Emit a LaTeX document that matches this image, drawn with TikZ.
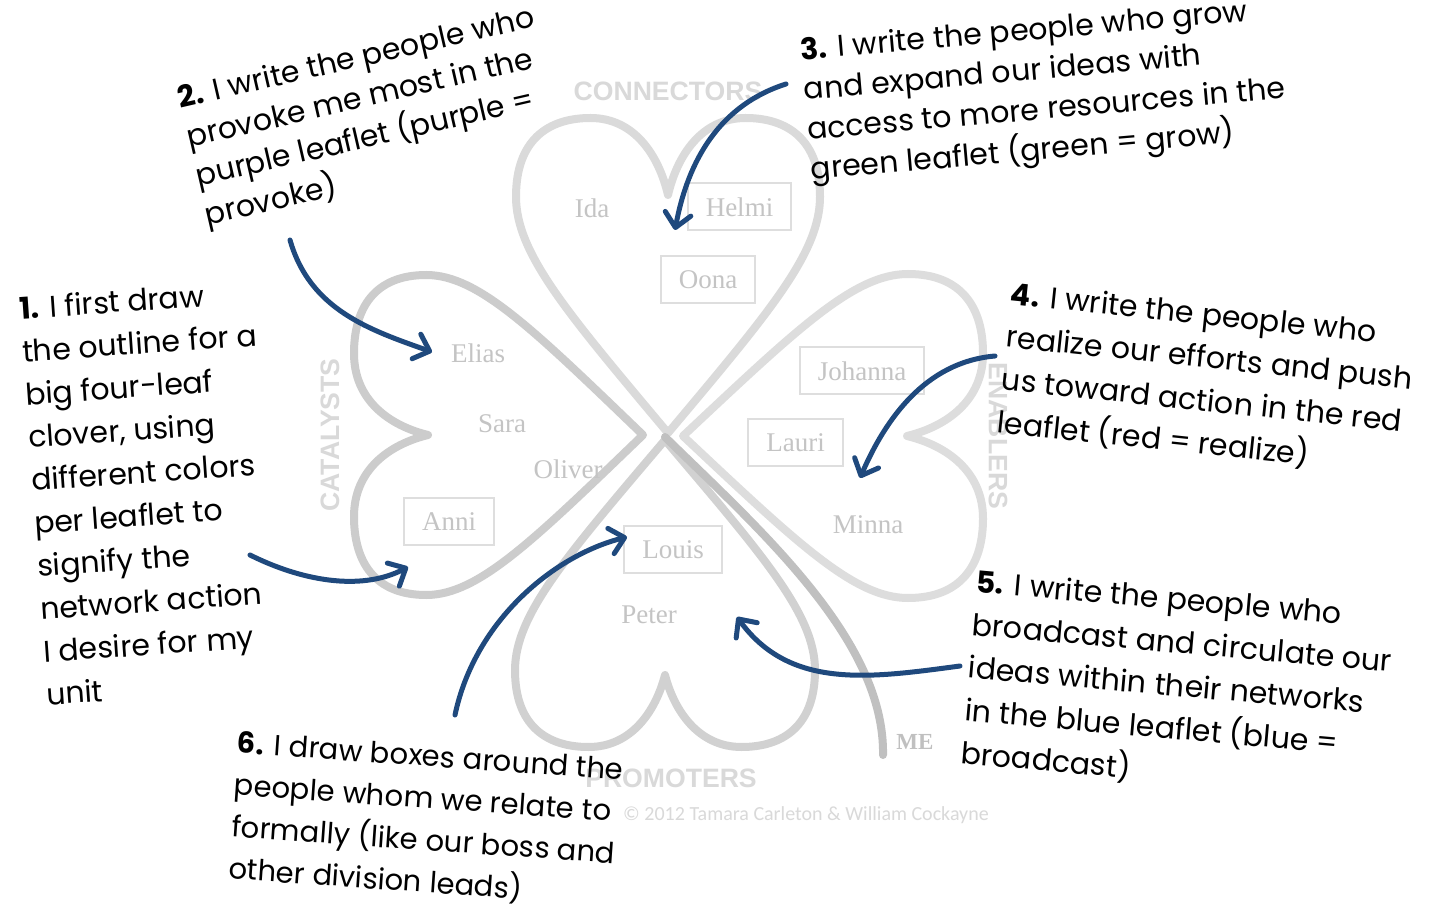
\documentclass[tikz,border=0pt]{standalone}
\usepackage{fontspec}
\setmainfont{Poppins}
\newfontfamily\namefont{Liberation Serif}
\newfontfamily\labfont{Liberation Sans}
\newfontfamily\copyfont{Carlito}
\usetikzlibrary{arrows.meta}
\definecolor{arrowblue}{RGB}{31,73,125}
\definecolor{namegray}{RGB}{196,196,196}
\definecolor{boxgray}{RGB}{222,222,222}
\definecolor{labgray}{RGB}{217,217,217}
\definecolor{leaftop}{RGB}{218,218,218}
\definecolor{leafleft}{RGB}{204,204,204}
\definecolor{leafright}{RGB}{221,221,221}
\definecolor{leafbottom}{RGB}{209,209,209}
\definecolor{stemgray}{RGB}{192,192,192}
\newcommand\drawleaf[4]{%
  \draw[leafline,#4] (0,0) .. controls ({-0.66*#2},{-0.38*#1}) and ({-#2},{-0.57*#1}) .. ({-#2},{-0.75*#1})
   .. controls ({-#2},{-0.93*#1}) and ({-0.79*#2},{-#1}) .. ({-0.51*#2},{-#1})
   .. controls ({-0.22*#2},{-#1}) and ({-0.06*#2},{-0.88*#1}) .. (0,{-#3})
   .. controls ({0.06*#2},{-0.88*#1}) and ({0.22*#2},{-#1}) .. ({0.51*#2},{-#1})
   .. controls ({0.79*#2},{-#1}) and ({#2},{-0.93*#1}) .. ({#2},{-0.75*#1})
   .. controls ({#2},{-0.57*#1}) and ({0.66*#2},{-0.38*#1}) .. (0,0) -- cycle;}
\begin{document}
\begin{tikzpicture}[x=0.5pt,y=-0.5pt,
  leafline/.style={line width=4pt,line join=round},
  person/.style={font=\namefont\fontsize{13.5}{16}\selectfont,text=namegray,inner sep=0pt},
  boxed/.style={person,draw=boxgray,line width=1pt,inner xsep=9pt,minimum height=23.5pt},
  group/.style={font=\labfont\bfseries\fontsize{13.3}{16}\selectfont,text=labgray,inner sep=0pt},
  note/.style={font=\fontsize{15}{21.5}\selectfont,align=left,anchor=north west,inner sep=0pt,text=black},
  pointer/.style={draw=arrowblue,line width=2.5pt,line cap=round,
    -{Straight Barb[length=7pt,width=13pt,line cap=round,line join=round]}}]
\useasboundingbox (0,0) rectangle (1444,908);
\fill[white] (0,0) rectangle (1444,908);
% clover
\begin{scope}[shift={(668,433)}]\drawleaf{315}{152}{238}{draw=leaftop}\end{scope}
\begin{scope}[shift={(683,436)},rotate=-90]\drawleaf{300}{162}{224}{draw=leafright}\end{scope}
\begin{scope}[shift={(665,440)},rotate=180]\drawleaf{307}{150}{235}{draw=leafbottom}\end{scope}
\begin{scope}[shift={(643,435)},rotate=90]\drawleaf{289}{160}{215}{draw=leafleft}\end{scope}
\coordinate (stemtop) at (665,437);
\coordinate (stemend) at (883,755);
\draw[line width=4pt,draw=stemgray,line cap=round] (stemtop) .. controls (760,530) and (885,640) .. (stemend);
% group labels
\node[group] (connectors) at (668,91) {CONNECTORS};
\node[group,rotate=90] (catalysts) at (330,435) {CATALYSTS};
\node[group,rotate=-90] (enablers) at (998,436) {ENABLERS};
\node[group] (promoters) at (671,778) {PROMOTERS};
\node[font=\namefont\bfseries\fontsize{11.5}{14}\selectfont,text=stemgray,inner sep=0pt] (me) at (915,742) {ME};
\node[font=\copyfont\fontsize{10}{12}\selectfont,text=labgray,inner sep=0pt] (copy) at (806,815) {© 2012 Tamara Carleton \& William Cockayne};
% people
\node[person] (ida) at (592,208) {Ida};
\node[boxed] (helmi) at (739.5,207) {Helmi};
\node[boxed] (oona) at (708,279.5) {Oona};
\node[person] (elias) at (478,353) {Elias};
\node[person] (sara) at (502,424) {Sara};
\node[person] (oliver) at (568,469) {Oliver};
\node[boxed] (anni) at (449,521.5) {Anni};
\node[boxed] (johanna) at (862,371) {Johanna};
\node[boxed] (lauri) at (795.5,442.5) {Lauri};
\node[person] (minna) at (868,525) {Minna};
\node[boxed] (louis) at (673,549.5) {Louis};
\node[person] (peter) at (649,615) {Peter};
% notes
\node[note,rotate=4] (n1) at (18,296) {\textbf{1.} I first draw\\the outline for a\\big four-leaf\\clover, using\\different colors\\per leaflet to\\signify the\\network action\\I desire for my\\unit};
\node[note,rotate=13,font=\fontsize{15}{20}\selectfont] (n2) at (175,86) {\textbf{2.} I write the people who\\provoke me most in the\\purple leaflet (purple =\\provoke)};
\node[note,rotate=5,font=\fontsize{15}{20}\selectfont] (n3) at (799,37) {\textbf{3.} I write the people who grow\\and expand our ideas with\\access to more resources in the\\green leaflet (green = grow)};
\node[note,rotate=-6] (n4) at (1012,281) {\textbf{4.} I write the people who\\realize our efforts and push\\us toward action in the red\\leaflet (red = realize)};
\node[note,rotate=-5] (n5) at (977,569) {\textbf{5.} I write the people who\\broadcast and circulate our\\ideas within their networks\\in the blue leaflet (blue =\\broadcast)};
\node[note,rotate=-4,font=\fontsize{14.5}{21}\selectfont] (n6) at (238,731) {\textbf{6.} I draw boxes around the\\people whom we relate to\\formally (like our boss and\\other division leads)};
% arrows
\coordinate (a1s) at (250,555); \coordinate (a1e) at (408,567);
\coordinate (a2s) at (290,240); \coordinate (a2e) at (432,352);
\coordinate (a3s) at (786,84);  \coordinate (a3e) at (675,230);
\coordinate (a4s) at (995,356); \coordinate (a4e) at (860,478);
\coordinate (a5s) at (960,666); \coordinate (a5e) at (737,617);
\coordinate (a6s) at (455,715); \coordinate (a6e) at (627,537);
\draw[pointer] (a1s) .. controls (300,580) and (360,592) .. (a1e);
\draw[pointer] (a2s) .. controls (310,310) and (370,330) .. (a2e);
\draw[pointer] (a3s) .. controls (720,105) and (688,160) .. (a3e);
\draw[pointer] (a4s) .. controls (925,362) and (885,420) .. (a4e);
\draw[pointer] (a5s) .. controls (870,678) and (790,690) .. (a5e);
\draw[pointer] (a6s) .. controls (475,620) and (555,555) .. (a6e);
\end{tikzpicture}
\end{document}
